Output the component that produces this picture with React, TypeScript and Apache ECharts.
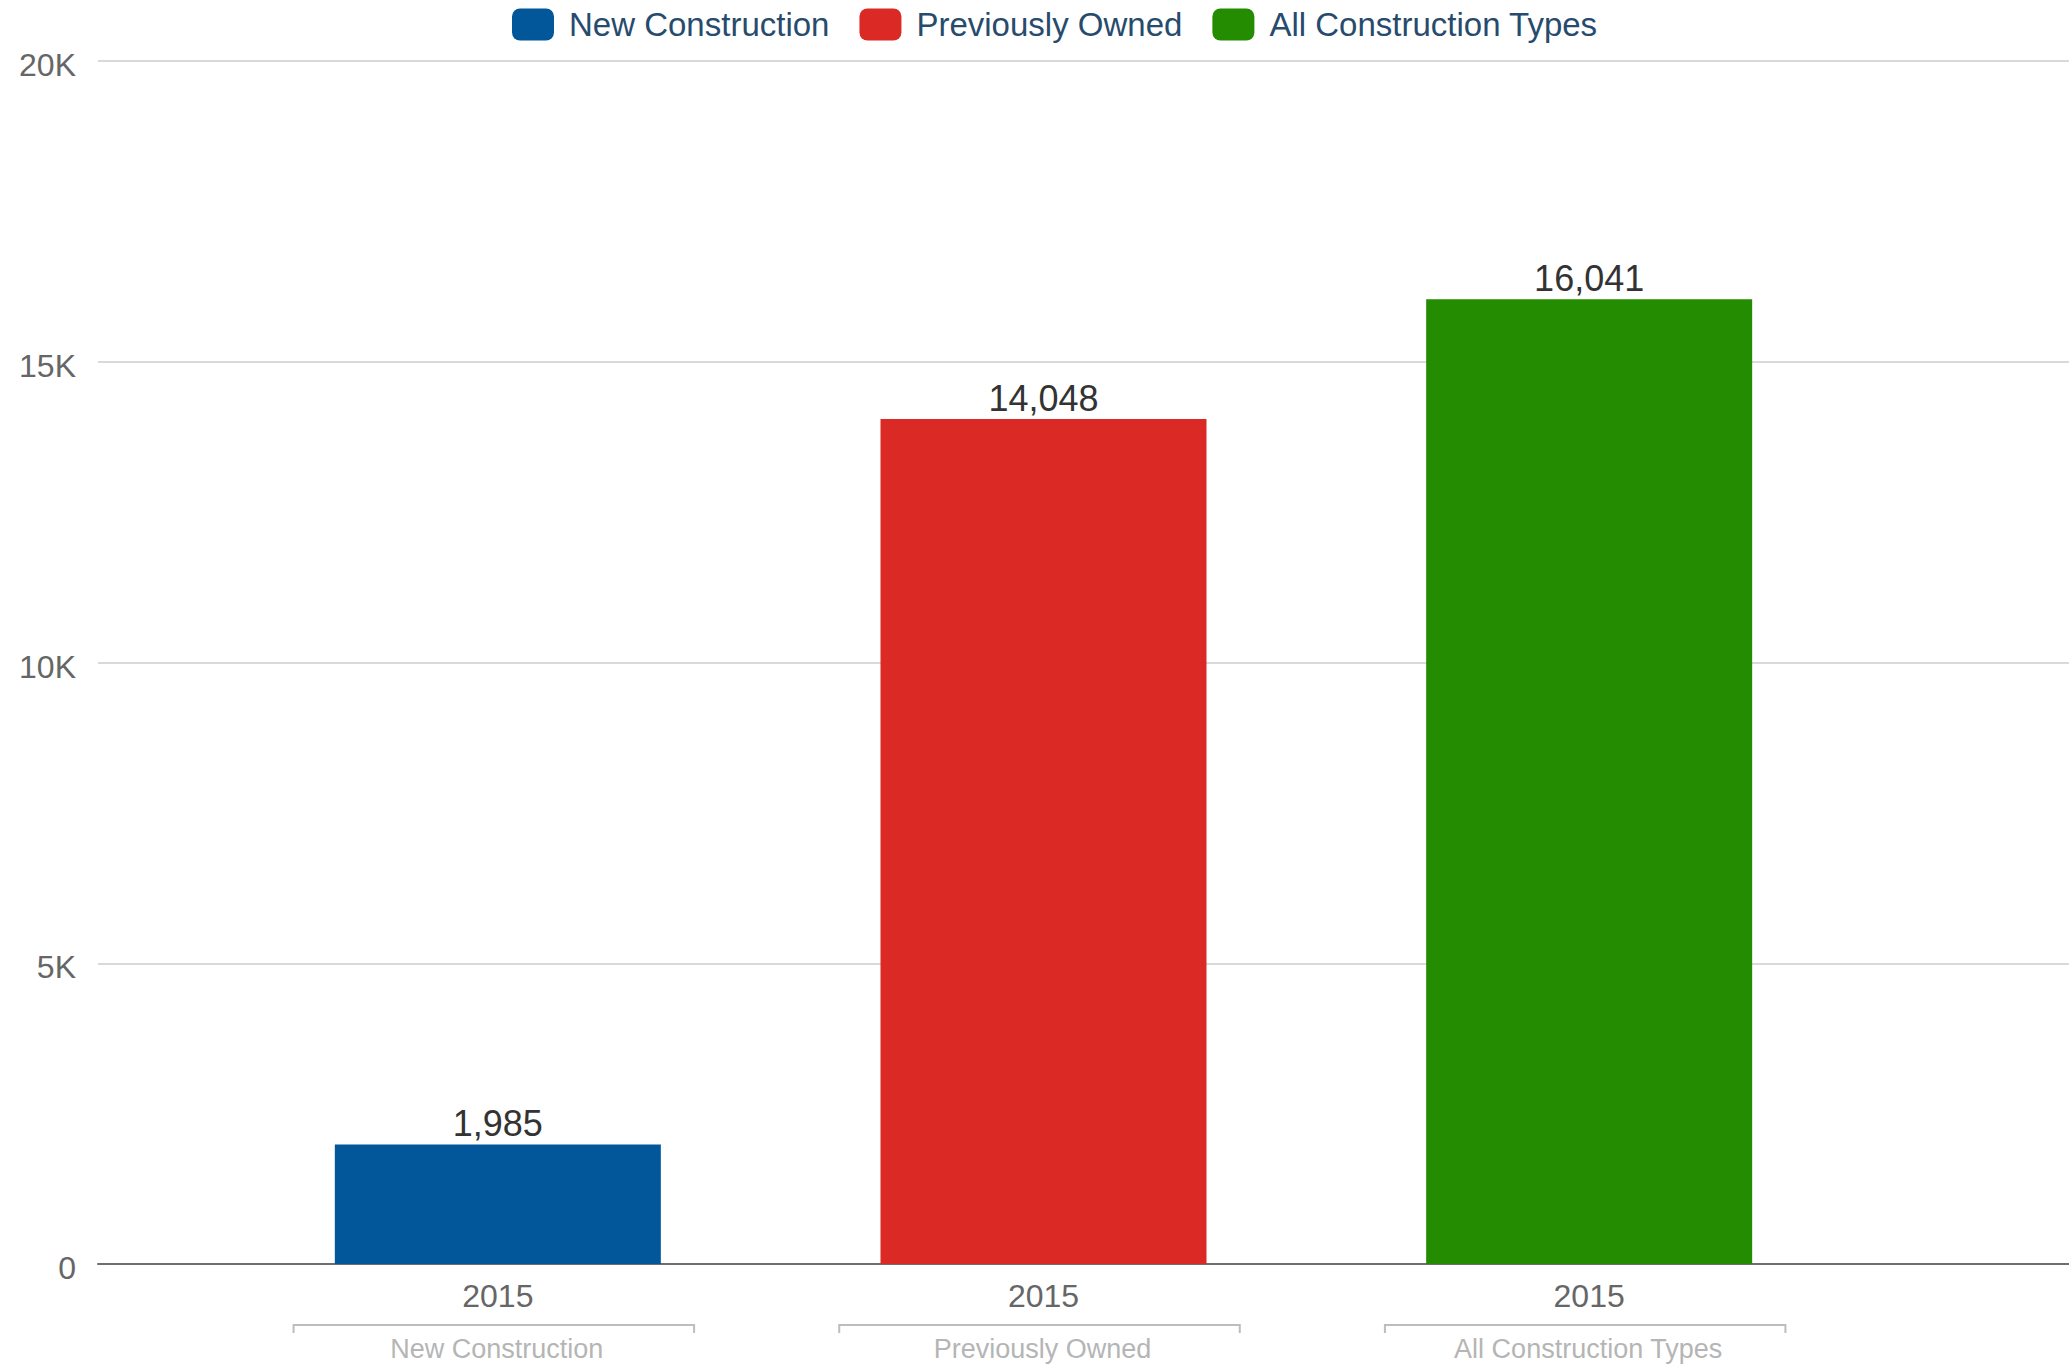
import React, { useEffect, useRef } from "react";
import * as echarts from "echarts";

const seriesNames = ["New Construction", "Previously Owned", "All Construction Types"];
const seriesValues = [1985, 14048, 16041];
const seriesColors = ["#02579a", "#db2a25", "#238c01"];
const yearLabels = ["2015", "2015", "2015"];
const yTicks = [0, 5000, 10000, 15000, 20000];

const FONT = "'Liberation Sans', Arial, Helvetica, sans-serif";

export default function App() {
  const ref = useRef<HTMLDivElement>(null);
  useEffect(() => {
    if (!ref.current) return;
    const chart = echarts.init(ref.current, undefined, { renderer: "svg" });
    const yMax = yTicks[yTicks.length - 1];
    const yInterval = yTicks[1] - yTicks[0];

    const barSeries = seriesNames.map((name, i) => ({
      name,
      type: "bar",
      xAxisIndex: 1,
      yAxisIndex: 1,
      barWidth: 326,
      barGap: "-100%",
      itemStyle: { color: seriesColors[i] },
      data: seriesValues.map((v, j) => (j === i ? v : "-")),
      label: {
        show: true,
        position: "top",
        distance: 3,
        color: "#333333",
        fontSize: 36,
        fontFamily: FONT,
        formatter: (p: any) => Number(p.value).toLocaleString("en-US"),
      },
    }));

    const bracketSeries = {
      type: "custom",
      xAxisIndex: 1,
      yAxisIndex: 1,
      silent: true,
      clip: false,
      data: seriesNames.map((_, i) => [i, 0]),
      encode: { x: 0, y: 1 },
      renderItem: (params: any, api: any) => {
        const idx = api.value(0);
        const pt = api.coord([idx, 0]);
        const w = api.size([1, 0])[0];
        const half = w * 0.367;
        const cx = pt[0] - 4;
        const by = pt[1] + 61;
        return {
          type: "group",
          children: [
            {
              type: "polyline",
              shape: {
                points: [
                  [cx - half, by + 8],
                  [cx - half, by],
                  [cx + half, by],
                  [cx + half, by + 8],
                ],
              },
              style: { stroke: "#bdbdbd", lineWidth: 2, fill: null },
            },
            {
              type: "text",
              x: pt[0] - 1,
              y: by + 24,
              style: {
                text: seriesNames[idx],
                fill: "#b5b5b5",
                fontSize: 27,
                fontFamily: FONT,
                align: "center",
                verticalAlign: "middle",
              },
            },
          ],
        };
      },
    };

    chart.setOption({
      animation: false,
      backgroundColor: "#ffffff",
      legend: {
        data: seriesNames,
        left: 507,
        top: 3,
        icon: "roundRect",
        itemWidth: 42,
        itemHeight: 32,
        itemGap: 30,
        textStyle: {
          color: "#274b6d",
          fontSize: 33,
          fontFamily: FONT,
          padding: [0, 0, 0, 10],
        },
      },
      grid: [
        { left: 98, right: 0, top: 61, bottom: 105 },
        { left: 225, width: 1637, top: 61, bottom: 105 },
      ],
      xAxis: [
        {
          type: "category",
          gridIndex: 0,
          data: [""],
          axisLine: { show: true, lineStyle: { color: "#6e6e6e", width: 2 } },
          axisTick: { show: false },
          axisLabel: { show: false },
        },
        {
          type: "category",
          gridIndex: 1,
          data: yearLabels.map((y, i) => y + "\u200b".repeat(i)),
          axisLine: { show: false },
          axisTick: { show: false },
          axisLabel: {
            show: true,
            margin: 16,
            color: "#666666",
            fontSize: 32,
            fontFamily: FONT,
            formatter: (v: string) => v.replace(/\u200b/g, ""),
          },
        },
      ],
      yAxis: [
        {
          type: "value",
          gridIndex: 0,
          min: 0,
          max: yMax,
          interval: yInterval,
          axisLine: { show: false },
          axisTick: { show: false },
          splitLine: { show: true, lineStyle: { color: "#d9d9d9", width: 2 } },
          axisLabel: {
            margin: 22,
            color: "#666666",
            fontSize: 32,
            fontFamily: FONT,
            verticalAlign: "top",
            lineHeight: 8,
            formatter: (v: number) => (v === 0 ? "0" : v / 1000 + "K"),
          },
        },
        {
          type: "value",
          gridIndex: 1,
          min: 0,
          max: yMax,
          interval: yInterval,
          show: false,
          splitLine: { show: false },
        },
      ],
      series: [...barSeries, bracketSeries],
    });
    return () => chart.dispose();
  }, []);

  return (
    <div
      ref={ref}
      style={{ position: "fixed", left: 0, top: 0, width: 2069, height: 1369 }}
    />
  );
}
